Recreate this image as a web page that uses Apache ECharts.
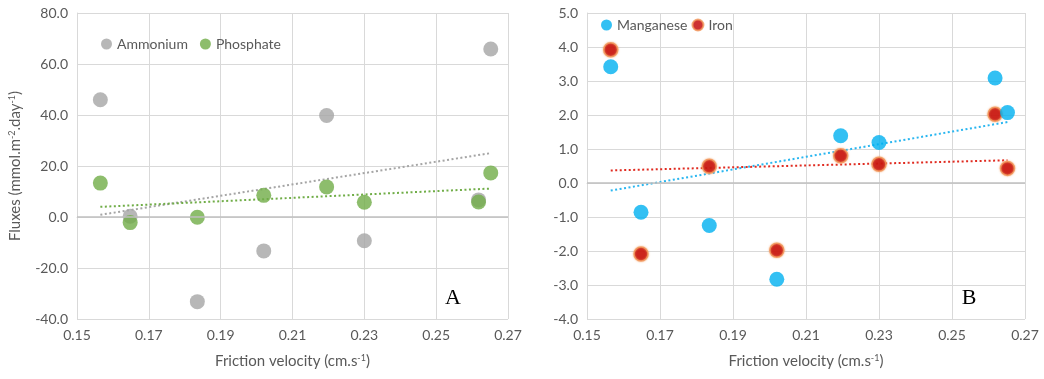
<!DOCTYPE html>
<html>
<head>
<meta charset="utf-8">
<script src="https://cdn.jsdelivr.net/npm/echarts@6/dist/echarts.min.js"></script>
<style>
html,body{margin:0;padding:0;background:#fff;}
#chart{width:1044px;height:379px;}
</style>
</head>
<body>
<div id="chart"></div>
<script>
// ---- data ----
const frictionVelocity = [0.1565, 0.1648, 0.1835, 0.2020, 0.2195, 0.2300, 0.2618, 0.2652];
const ammonium  = [46.0, 0.3, -33.2, -13.3, 39.8, -9.3, 6.7, 65.9];
const phosphate = [13.3, -2.2, -0.1, 8.5, 11.8, 5.8, 5.9, 17.3];
const manganese = [3.42, -0.86, -1.25, -2.83, 1.39, 1.19, 3.09, 2.07];
const iron      = [3.92, -2.09, 0.49, -1.98, 0.80, 0.55, 2.02, 0.43];
const legendA = ['Ammonium', 'Phosphate'];
const legendB = ['Manganese', 'Iron'];
const xTitle = 'Friction velocity (cm.s{sup|-1})';
const yTitle = 'Fluxes (mmol.m{sup|-2}.day{sup|-1})';

function pairs(xs, ys){ return xs.map((x,i)=>[x, ys[i]]); }
function trend(xs, ys){
  const n = xs.length;
  const mx = xs.reduce((a,b)=>a+b,0)/n, my = ys.reduce((a,b)=>a+b,0)/n;
  let sxy=0, sxx=0;
  for(let i=0;i<n;i++){ sxy+=(xs[i]-mx)*(ys[i]-my); sxx+=(xs[i]-mx)*(xs[i]-mx); }
  const b = sxy/sxx, a = my - b*mx;
  const x0 = Math.min(...xs), x1 = Math.max(...xs);
  return [[x0, a+b*x0],[x1, a+b*x1]];
}

const FONT = 'Lato';
const TXT = '#595959';
const GRID = '#D9D9D9';
const rich = { sup: { fontSize: 9, verticalAlign: 'top', color: TXT, fontFamily: FONT, padding:[0,0,6,0] } };

function xAxis(idx){
  return {
    type:'value', gridIndex: idx, min:0.15, max:0.27, interval:0.02,
    axisLine:{show:true, lineStyle:{color:GRID}}, axisTick:{show:false},
    splitLine:{show:true, lineStyle:{color:GRID, width:1}},
    axisLabel:{color:TXT, fontSize:14, fontFamily:FONT, margin:9, formatter:v=>v.toFixed(2)},
    name: xTitle, nameLocation:'middle', nameGap:35,
    nameTextStyle:{color:TXT, fontSize:15, fontFamily:FONT, rich: rich}
  };
}
function yAxis(idx, min, max, interval, withName){
  const o = {
    type:'value', gridIndex: idx, min:min, max:max, interval:interval,
    axisLine:{show:true, lineStyle:{color:GRID}}, axisTick:{show:false},
    splitLine:{show:true, lineStyle:{color:GRID, width:1}},
    axisLabel:{color:TXT, fontSize:14, fontFamily:FONT, margin:9, formatter:v=>v.toFixed(1)}
  };
  if(withName){
    o.name = yTitle; o.nameLocation='middle'; o.nameGap=54;
    o.nameTextStyle = {color:TXT, fontSize:15, fontFamily:FONT, rich: rich};
  }
  return o;
}
function scatter(name, idx, data, style, z, size){
  return {name:name, type:'scatter', xAxisIndex:idx, yAxisIndex:idx, data:data,
    symbolSize:size||15, itemStyle:style, z:z||3};
}
function tline(idx, data, color){
  return {type:'line', xAxisIndex:idx, yAxisIndex:idx, data:data, symbol:'none', silent:true,
    lineStyle:{color:color, width:2, type:[2,2.5]}, z:2};
}
const zeroLine = {silent:true, symbol:'none', label:{show:false},
  lineStyle:{color:'#BFBFBF', width:1.5, type:'solid'}, data:[{yAxis:0}]};

const feStyle = {color:'#C00000', borderColor:'#F39A5C', borderWidth:1.5, shadowBlur:2, shadowColor:'rgba(244,160,100,0.9)'};

const chart = echarts.init(document.getElementById('chart'));
chart.setOption({
  animation:false,
  backgroundColor:'#fff',
  textStyle:{fontFamily:FONT},
  grid:[
    {left:77, top:13, width:431, height:306},
    {left:587, top:13, width:438, height:306}
  ],
  legend:[
    {data:legendA, left:101, top:37, itemWidth:11, itemHeight:11, itemGap:12, icon:'circle',
     textStyle:{color:TXT, fontSize:14, fontFamily:FONT}, padding:0},
    {data:legendB, left:601, top:18, itemWidth:11, itemHeight:11, itemGap:4, icon:'circle',
     textStyle:{color:TXT, fontSize:14, fontFamily:FONT}, padding:0}
  ],
  xAxis:[xAxis(0), xAxis(1)],
  yAxis:[yAxis(0,-40,80,20,true), yAxis(1,-4,5,1,false)],
  series:[
    Object.assign(scatter('Ammonium',0,pairs(frictionVelocity, ammonium),{color:'#A5A5A5'},3),{markLine:zeroLine}),
    scatter('Phosphate',0,pairs(frictionVelocity, phosphate),{color:'#70AD47'},4),
    tline(0, trend(frictionVelocity, ammonium), '#A5A5A5'),
    tline(0, trend(frictionVelocity, phosphate), '#70AD47'),
    Object.assign(scatter('Manganese',1,pairs(frictionVelocity, manganese),{color:'#00B0F0'},4),{markLine:zeroLine}),
    scatter('Iron',1,pairs(frictionVelocity, iron),feStyle,3,14),
    tline(1, trend(frictionVelocity, manganese), '#29B6F0'),
    tline(1, trend(frictionVelocity, iron), '#E02B20')
  ],
  graphic:[
    {type:'text', x:453, y:298, style:{text:'A', font:'22px "Liberation Serif"', fill:'#000', textAlign:'center', textVerticalAlign:'middle'}},
    {type:'text', x:969, y:298, style:{text:'B', font:'22px "Liberation Serif"', fill:'#000', textAlign:'center', textVerticalAlign:'middle'}}
  ]
});
</script>
</body>
</html>
